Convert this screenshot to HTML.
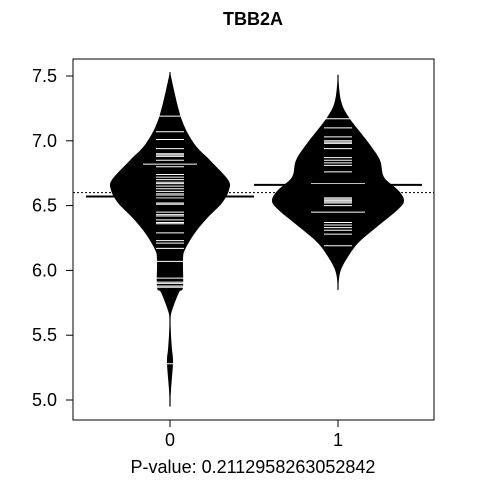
<!DOCTYPE html>
<html><head><meta charset="utf-8"><style>
html,body{margin:0;padding:0;background:#fff;}
svg{display:block;font-family:"Liberation Sans",Arial,sans-serif;}
</style></head><body>
<svg id="chart" width="480" height="480" viewBox="0 0 480 480">
<text x="253" y="25" text-anchor="middle" font-size="18" font-weight="bold">TBB2A</text>
<rect x="73" y="59" width="361" height="361" fill="none" stroke="#000" stroke-width="1"/>
<g id="marks"></g>
<g id="axes"></g>
<text x="253" y="473" text-anchor="middle" font-size="18">P-value: 0.2112958263052842</text>
</svg>
<script>
const categories = ["0","1"];
const yTicks = [5.0,5.5,6.0,6.5,7.0,7.5];
const yTickLabels = ["5.0","5.5","6.0","6.5","7.0","7.5"];
const densVals0 = [7.53,7.18,6.98,6.85,6.70,6.62,6.52,6.41,6.29,6.16,6.08,5.87,5.83,5.69,5.62,5.50,5.39,5.29,5.08,4.95];
const densW0    = [0,11,24,40,58,59,52,38,25,15,13,13,9,2,0.5,1,2,3,1,0];
const densVals1 = [7.51,7.31,7.18,6.98,6.85,6.72,6.62,6.54,6.47,6.33,6.21,6.08,5.98,5.85];
const densW1    = [0,3,11,31,42,46,60,66,60,38,20,8,2,0];
const obs0 = [7.19,7.07,7.01,6.94,6.90,6.89,6.88,6.85,6.80,6.74,6.72,6.70,6.68,6.67,6.65,6.63,6.61,6.59,6.58,6.56,6.52,6.51,6.45,6.43,6.42,6.39,6.37,6.36,6.29,6.23,6.21,6.17,6.07,5.94,5.91,5.90,5.88,5.87];
const obs0Wide = [6.82,5.28];
const obs1 = [7.17,7.10,7.03,7.00,6.99,6.98,6.94,6.87,6.85,6.83,6.81,6.76,6.56,6.55,6.54,6.53,6.52,6.50,6.37,6.35,6.33,6.31,6.28,6.19];
const obs1Wide = [6.67,6.45];
const groupMeans = [6.57,6.66];
const overallMean = 6.60;

const NS="http://www.w3.org/2000/svg";
const plotTop=59,plotBottom=420,plotLeft=73,plotRight=434;
function yScale(v){return 400-(v-5)*129.6;}
function xScale(i){return 170+i*168;}
const marks=document.getElementById('marks');
const axes=document.getElementById('axes');
function mk(tag,attrs,parent){const e=document.createElementNS(NS,tag);for(const k in attrs)e.setAttribute(k,attrs[k]);parent.appendChild(e);return e;}
function smooth(pts){
  let d="M"+pts[0][0]+","+pts[0][1];
  for(let i=0;i<pts.length-1;i++){
    const p0=pts[Math.max(0,i-1)],p1=pts[i],p2=pts[i+1],p3=pts[Math.min(pts.length-1,i+2)];
    const c1=[p1[0]+(p2[0]-p0[0])/6,p1[1]+(p2[1]-p0[1])/6];
    const c2=[p2[0]-(p3[0]-p1[0])/6,p2[1]-(p3[1]-p1[1])/6];
    d+=" C"+c1[0]+","+c1[1]+" "+c2[0]+","+c2[1]+" "+p2[0]+","+p2[1];
  }
  return d;
}

const dens=[[densVals0,densW0],[densVals1,densW1]];
const obs=[[obs0,obs0Wide],[obs1,obs1Wide]];
dens.forEach(([vals,ws],i)=>{
  const cx=xScale(i);
  const left=[],right=[];
  for(let k=0;k<vals.length;k++){left.push([cx-ws[k],yScale(vals[k])]);}
  for(let k=vals.length-1;k>=0;k--){right.push([cx+ws[k],yScale(vals[k])]);}
  const d=smooth(left)+" L"+smooth(right).slice(1)+" Z";
  const p=mk('path',{d:d,fill:'#000'},marks);
  
  
  const l=mk('line',{x1:cx,x2:cx,y1:yScale(vals[0]),y2:yScale(vals[vals.length-1]),stroke:'#000','stroke-width':1.2},marks);
  
  
  obs[i][0].forEach(v=>{
    const b=mk('line',{x1:cx-14,x2:cx+14,y1:yScale(v),y2:yScale(v),stroke:'#fff','stroke-width':1},marks);
    
    
  });
  obs[i][1].forEach(v=>{
    const b=mk('line',{x1:cx-27,x2:cx+27,y1:yScale(v),y2:yScale(v),stroke:'#fff','stroke-width':1},marks);
    
    
  });
});
const om=mk('line',{x1:plotLeft,x2:plotRight,y1:yScale(overallMean),y2:yScale(overallMean),stroke:'#000','stroke-width':1,'stroke-dasharray':'2,2'},marks);


groupMeans.forEach((m,i)=>{
  const cx=xScale(i);
  const g=mk('line',{x1:cx-84,x2:cx+84,y1:yScale(m),y2:yScale(m),stroke:'#000','stroke-width':2},marks);
  
  
});
yTicks.forEach((t,k)=>{
  const y=yScale(t);
  const tl=mk('line',{x1:66,x2:73,y1:y,y2:y,stroke:'#000'},axes);
  
  
  const tx=mk('text',{x:57,y:y+6,'text-anchor':'end','font-size':18},axes);
  tx.textContent=yTickLabels[k];
  
  
});
categories.forEach((c,i)=>{
  const x=xScale(i);
  const tl=mk('line',{x1:x,x2:x,y1:420,y2:427,stroke:'#000'},axes);
  
  
  const tx=mk('text',{x:x,y:446,'text-anchor':'middle','font-size':18},axes);
  tx.textContent=c;
  
  
});
</script>
</body></html>
